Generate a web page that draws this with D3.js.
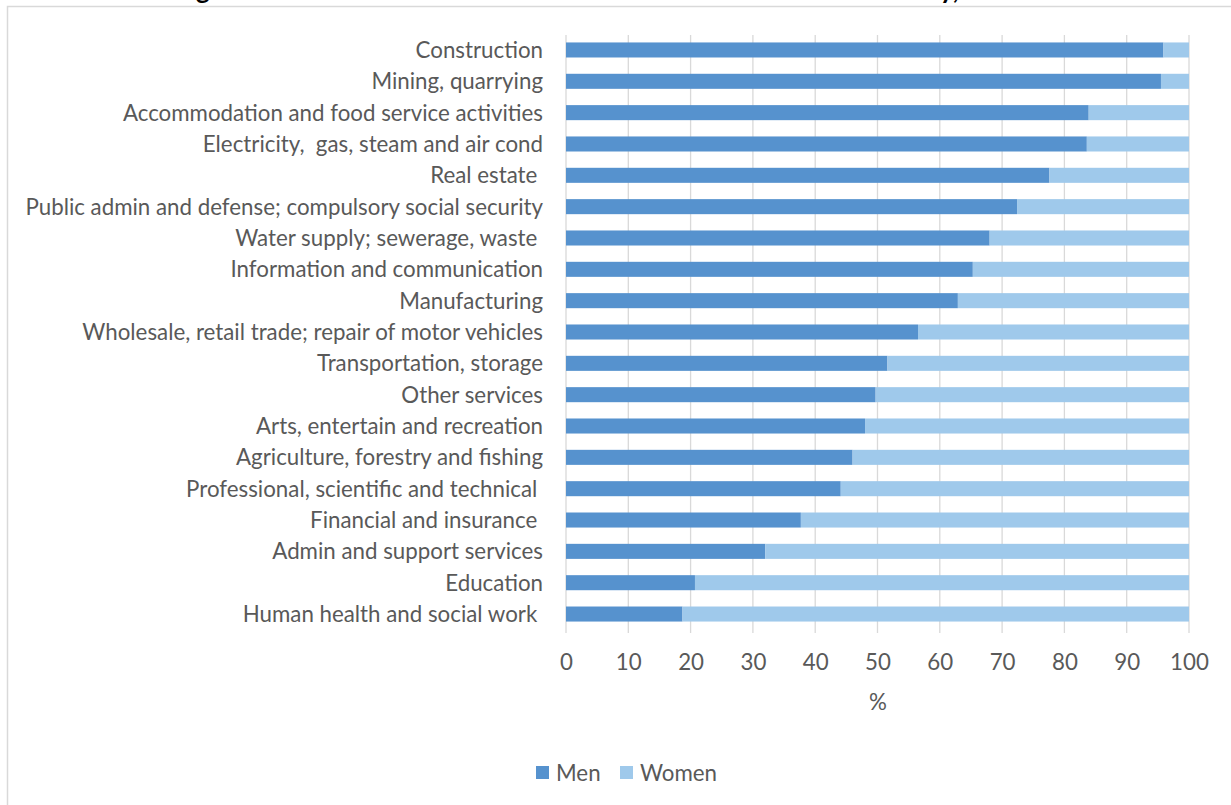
<!DOCTYPE html>
<html><head><meta charset="utf-8">
<script src="https://cdn.jsdelivr.net/npm/d3@7"></script>
<style>
html,body{margin:0;padding:0;background:#fff;overflow:hidden}
svg{display:block}
</style></head>
<body>
<svg id="chart" width="1231" height="805"></svg>
<script>
const categories = [
  "Construction",
  "Mining, quarrying",
  "Accommodation and food service activities",
  "Electricity,  gas, steam and air cond",
  "Real estate ",
  "Public admin and defense; compulsory social security",
  "Water supply; sewerage, waste ",
  "Information and communication",
  "Manufacturing",
  "Wholesale, retail trade; repair of motor vehicles",
  "Transportation, storage",
  "Other services",
  "Arts, entertain and recreation",
  "Agriculture, forestry and fishing",
  "Professional, scientific and technical ",
  "Financial and insurance ",
  "Admin and support services",
  "Education",
  "Human health and social work "
];
const men = [95.9, 95.5, 83.9, 83.6, 77.6, 72.4, 68.0, 65.3, 62.9, 56.5, 51.6, 49.7, 48.0, 46.0, 44.1, 37.7, 32.0, 20.7, 18.7];
const women = men.map(v => +(100 - v).toFixed(1));
const xTicks = [0,10,20,30,40,50,60,70,80,90,100];
const seriesNames = ["Men","Women"];
const colors = ["#5692CE","#9FC9EB"];
const titleText = "Figure 1: Men and women as share of total workers in each industry, 2015";

const svg = d3.select("#chart");
const font = "Lato, 'Open Sans', 'Liberation Sans', sans-serif";
const textColor = "#595959";

// outer frame
svg.append("rect").attr("x",7.5).attr("y",6.5).attr("width",1300).attr("height",900)
  .attr("fill","none").attr("stroke","#D9D9D9").attr("stroke-width",1.5);

// title, mostly above the visible area as in the reference
svg.append("text").attr("x",600).attr("y",-1.5).attr("text-anchor","middle")
  .attr("font-family",font).attr("font-weight","bold").attr("font-size",26)
  .attr("fill","#000").text(titleText);

const x = d3.scaleLinear().domain([0,100]).range([566,1189]);
const y = d3.scaleBand().domain(categories).range([34.3,629.7]).paddingInner(0.52).paddingOuter(0.26);

// gridlines
svg.append("g").selectAll("line").data(xTicks).join("line")
  .attr("x1",d=>x(d)).attr("x2",d=>x(d)).attr("y1",35).attr("y2",633)
  .attr("stroke","#D9D9D9").attr("stroke-width",1.3);

// stacked bars
const rows = categories.map((c,i)=>({cat:c, Men:men[i], Women:women[i]}));
const stack = d3.stack().keys(seriesNames)(rows);
svg.append("g").selectAll("g").data(stack).join("g")
  .attr("fill",(d,i)=>colors[i])
  .selectAll("rect").data(d=>d).join("rect")
  .attr("x",d=>x(d[0])).attr("width",d=>x(d[1])-x(d[0]))
  .attr("y",d=>y(d.data.cat)).attr("height",y.bandwidth());

// category labels
const labels = svg.append("g").selectAll("text").data(categories).join("text")
  .attr("x",543).attr("y",d=>y(d)+y.bandwidth()/2).attr("dy","0.36em")
  .attr("text-anchor","end").attr("font-family",font).attr("font-size",20)
  .attr("fill",textColor).attr("xml:space","preserve").style("white-space","pre").text(d=>d);
// fit font size so the longest label spans as in the reference (~518px)
let maxW = 0;
labels.each(function(){ maxW = Math.max(maxW, this.getComputedTextLength()); });
const fs = Math.max(16, Math.min(24, 20 * 518 / maxW));
labels.attr("font-size", fs);

// x tick labels
const xAxis = d3.axisBottom(x).tickValues(xTicks).tickSize(0).tickPadding(0);
const gx = svg.append("g").attr("transform","translate(0,662)").call(xAxis);
gx.select(".domain").remove();
gx.selectAll("text").attr("font-family",font).attr("font-size",fs).attr("fill",textColor).attr("dy","0.36em").attr("y",0);

// axis title
svg.append("text").attr("x",878).attr("y",702).attr("dy","0.36em").attr("text-anchor","middle")
  .attr("font-family",font).attr("font-size",fs).attr("fill",textColor).text("%");

// legend
const legX = [536,620];
seriesNames.forEach((s,i)=>{
  svg.append("rect").attr("x",legX[i]).attr("y",766).attr("width",13).attr("height",13).attr("fill",colors[i]);
  svg.append("text").attr("x",legX[i]+20).attr("y",772.5).attr("dy","0.36em")
    .attr("font-family",font).attr("font-size",fs).attr("fill",textColor).text(s);
});
</script>
</body></html>
